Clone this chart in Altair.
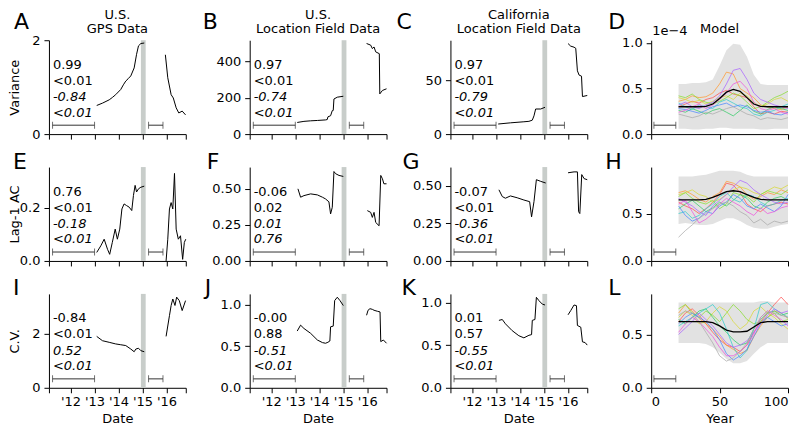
import altair as alt
import pandas as pd

FONT = "DejaVu Sans"
FS = 13
W = 137
H = 94

# ---------------- shared x settings ----------------
DATE_DOMAIN = [2011.1, 2016.8]
DATE_TICKS = [2011.1, 2012, 2013, 2014, 2015, 2016, 2016.8]
GAP = [2014.93, 2015.13]
WIN_X1 = [2011.25, 2015.25]
WIN_X2 = [2013.0, 2015.85]
WIN_FRAC = 0.095

MODEL_X = [20, 25, 30, 35, 40, 45, 50, 55, 60, 65, 70, 75, 80, 85, 90, 95, 100]
MODEL_WIN = [2, 18]

# ---------------- Panel A: Variance, U.S. GPS ----------------
A_x1 = [2013.09, 2013.33, 2013.61, 2013.74, 2013.88, 2014.09, 2014.20, 2014.30, 2014.40, 2014.51, 2014.65, 2014.75, 2014.83, 2014.93, 2015.07]
A_y1 = [0.61, 0.66, 0.73, 0.78, 0.84, 0.95, 1.05, 1.13, 1.18, 1.24, 1.41, 1.70, 1.88, 1.93, 1.94]
A_x2 = [2015.95, 2016.05, 2016.19, 2016.28, 2016.40, 2016.51, 2016.65, 2016.79]
A_y2 = [1.69, 1.20, 0.84, 0.77, 0.56, 0.45, 0.49, 0.41]
A_stats = ["0.99", "<0.01", "-0.84", "<0.01"]

# ---------------- Panel B: Variance, U.S. location field ----------------
B_x1 = [2013.08, 2013.36, 2013.64, 2013.92, 2014.26, 2014.33, 2014.36, 2014.47, 2014.54, 2014.58, 2014.61, 2014.75, 2015.00]
B_y1 = [64, 70, 73, 75, 78, 80, 95, 101, 129, 130, 193, 203, 208]
B_x2 = [2015.97, 2016.14, 2016.21, 2016.28, 2016.35, 2016.50, 2016.52, 2016.63, 2016.80]
B_y2 = [498, 489, 470, 479, 452, 442, 221, 240, 249]
B_stats = ["0.97", "<0.01", "-0.74", "<0.01"]

# ---------------- Panel C: Variance, California ----------------
C_x1 = [2013.09, 2013.60, 2014.16, 2014.37, 2014.51, 2014.58, 2014.65, 2014.86, 2015.04]
C_y1 = [9.4, 10.5, 11.5, 11.9, 13.0, 17.0, 23.4, 23.4, 25.0]
C_x2 = [2016.00, 2016.11, 2016.25, 2016.32, 2016.39, 2016.46, 2016.56, 2016.60, 2016.80]
C_y2 = [84.4, 82.0, 81.0, 80.0, 59.0, 55.0, 54.0, 35.0, 36.0]
C_stats = ["0.97", "<0.01", "-0.79", "<0.01"]

# ---------------- Panel E: Lag-1 AC, U.S. GPS ----------------
E_x1 = [2013.09, 2013.26, 2013.40, 2013.54, 2013.63, 2013.74, 2013.86, 2013.95, 2014.05, 2014.14, 2014.23, 2014.33, 2014.44, 2014.55, 2014.62, 2014.69, 2014.75, 2014.83, 2014.93, 2015.07]
E_y1 = [0.032, 0.057, 0.082, 0.044, 0.025, 0.070, 0.120, 0.082, 0.120, 0.196, 0.215, 0.209, 0.203, 0.190, 0.247, 0.285, 0.260, 0.272, 0.278, 0.282]
E_x2 = [2015.98, 2016.05, 2016.12, 2016.19, 2016.26, 2016.33, 2016.40, 2016.49, 2016.58, 2016.67, 2016.74, 2016.80]
E_y2 = [0.0, 0.082, 0.196, 0.220, 0.196, 0.330, 0.120, 0.082, 0.095, 0.006, 0.070, 0.082]
E_stats = ["0.76", "<0.01", "-0.18", "<0.01"]

# ---------------- Panel F: Lag-1 AC, U.S. location field ----------------
F_x1 = [2013.11, 2013.22, 2013.36, 2013.64, 2013.92, 2014.13, 2014.26, 2014.40, 2014.47, 2014.54, 2014.61, 2014.68, 2014.82, 2015.00]
F_y1 = [0.500, 0.442, 0.453, 0.465, 0.458, 0.442, 0.430, 0.410, 0.326, 0.372, 0.620, 0.605, 0.593, 0.586]
F_x2 = [2016.00, 2016.14, 2016.21, 2016.28, 2016.35, 2016.49, 2016.56, 2016.63, 2016.69, 2016.80]
F_y2 = [0.349, 0.337, 0.302, 0.337, 0.267, 0.244, 0.593, 0.570, 0.535, 0.535]
F_stats = ["-0.06", "0.02", "0.01", "0.76"]

# ---------------- Panel G: Lag-1 AC, California ----------------
G_x1 = [2013.12, 2013.26, 2013.39, 2013.60, 2013.88, 2014.16, 2014.40, 2014.48, 2014.58, 2014.68, 2014.86, 2015.07]
G_y1 = [0.473, 0.428, 0.417, 0.432, 0.420, 0.405, 0.394, 0.293, 0.394, 0.540, 0.529, 0.518]
G_x2 = [2016.00, 2016.25, 2016.39, 2016.44, 2016.49, 2016.57, 2016.67, 2016.80]
G_y2 = [0.586, 0.592, 0.592, 0.327, 0.315, 0.574, 0.547, 0.540]
G_stats = ["-0.07", "<0.01", "-0.36", "<0.01"]

# ---------------- Panel I: C.V., U.S. GPS ----------------
I_x1 = [2013.09, 2013.33, 2013.61, 2013.88, 2014.09, 2014.30, 2014.51, 2014.65, 2014.72, 2014.83, 2014.93, 2015.07]
I_y1 = [1.91, 1.75, 1.69, 1.63, 1.60, 1.57, 1.44, 1.34, 1.44, 1.47, 1.38, 1.34]
I_x2 = [2015.98, 2016.12, 2016.19, 2016.26, 2016.35, 2016.42, 2016.53, 2016.65, 2016.79]
I_y2 = [1.91, 2.68, 3.06, 3.30, 3.06, 3.37, 3.24, 2.87, 3.24]
I_stats = ["-0.84", "<0.01", "0.52", "<0.01"]

# ---------------- Panel J: C.V., U.S. location field ----------------
J_x1 = [2013.08, 2013.22, 2013.36, 2013.64, 2013.92, 2014.13, 2014.26, 2014.36, 2014.44, 2014.47, 2014.58, 2014.64, 2014.75, 2014.86, 2015.00]
J_y1 = [0.683, 0.754, 0.714, 0.655, 0.575, 0.544, 0.536, 0.548, 0.563, 0.734, 0.742, 1.05, 1.09, 1.05, 0.99]
J_x2 = [2015.97, 2016.03, 2016.11, 2016.21, 2016.28, 2016.42, 2016.53, 2016.56, 2016.67, 2016.80]
J_y2 = [0.873, 0.933, 0.952, 0.944, 0.933, 0.921, 0.913, 0.556, 0.575, 0.536]
J_stats = ["-0.00", "0.88", "-0.51", "<0.01"]

# ---------------- Panel K: C.V., California ----------------
K_x1 = [2013.12, 2013.26, 2013.39, 2013.67, 2013.95, 2014.16, 2014.37, 2014.48, 2014.51, 2014.62, 2014.68, 2014.79, 2014.93, 2015.04]
K_y1 = [0.79, 0.80, 0.75, 0.67, 0.61, 0.585, 0.615, 0.623, 0.79, 0.80, 1.06, 1.02, 0.98, 0.97]
K_x2 = [2016.00, 2016.11, 2016.25, 2016.35, 2016.39, 2016.53, 2016.60, 2016.71, 2016.80]
K_y2 = [0.855, 0.904, 0.97, 0.962, 0.73, 0.71, 0.538, 0.53, 0.50]
K_stats = ["0.01", "0.57", "-0.55", "<0.01"]

# ---------------- Model panels ----------------
SERIES = ["s1", "s2", "s3", "s4", "s5", "s6", "s7", "s8", "s9", "s10"]
SERIES_COLORS = ["#ff5050", "#ff9933", "#d8d838", "#88dd33", "#33cc66",
                 "#33cccc", "#4d88ff", "#aa66ff", "#ee55dd", "#aaaaaa"]

D_hi = [0.55, 0.55, 0.56, 0.56, 0.57, 0.60, 0.75, 0.92, 0.99, 0.98, 0.85, 0.65, 0.55, 0.54, 0.54, 0.54, 0.54]
D_lo = [0.06, 0.06, 0.05, 0.05, 0.06, 0.06, 0.07, 0.07, 0.06, 0.06, 0.06, 0.06, 0.05, 0.05, 0.06, 0.06, 0.06]
D_mean = [0.30, 0.30, 0.30, 0.30, 0.305, 0.33, 0.39, 0.46, 0.49, 0.47, 0.40, 0.33, 0.305, 0.30, 0.30, 0.30, 0.30]
D_lines = [
    [0.30, 0.33, 0.36, 0.34, 0.38, 0.40, 0.45, 0.48, 0.44, 0.42, 0.40, 0.30, 0.22, 0.24, 0.22, 0.25, 0.24],
    [0.36, 0.38, 0.42, 0.40, 0.41, 0.45, 0.55, 0.68, 0.66, 0.50, 0.45, 0.40, 0.32, 0.30, 0.28, 0.27, 0.30],
    [0.40, 0.38, 0.35, 0.37, 0.33, 0.36, 0.40, 0.42, 0.38, 0.45, 0.42, 0.35, 0.30, 0.33, 0.38, 0.40, 0.36],
    [0.42, 0.40, 0.44, 0.38, 0.35, 0.33, 0.36, 0.40, 0.45, 0.42, 0.35, 0.28, 0.30, 0.35, 0.40, 0.43, 0.47],
    [0.26, 0.24, 0.28, 0.25, 0.22, 0.26, 0.28, 0.24, 0.20, 0.26, 0.32, 0.25, 0.22, 0.27, 0.30, 0.28, 0.26],
    [0.34, 0.30, 0.27, 0.32, 0.30, 0.28, 0.35, 0.38, 0.34, 0.30, 0.28, 0.22, 0.20, 0.24, 0.26, 0.30, 0.33],
    [0.28, 0.27, 0.25, 0.23, 0.26, 0.30, 0.32, 0.34, 0.30, 0.32, 0.30, 0.26, 0.24, 0.25, 0.22, 0.21, 0.24],
    [0.32, 0.35, 0.30, 0.28, 0.32, 0.35, 0.42, 0.55, 0.70, 0.72, 0.60, 0.45, 0.38, 0.35, 0.32, 0.30, 0.28],
    [0.24, 0.26, 0.30, 0.33, 0.28, 0.32, 0.38, 0.45, 0.55, 0.58, 0.50, 0.35, 0.28, 0.26, 0.28, 0.24, 0.22],
    [0.22, 0.20, 0.18, 0.20, 0.24, 0.22, 0.25, 0.28, 0.30, 0.26, 0.22, 0.20, 0.16, 0.18, 0.17, 0.16, 0.18],
]

H_hi = [0.89, 0.89, 0.89, 0.90, 0.91, 0.93, 0.95, 0.95, 0.95, 0.94, 0.91, 0.89, 0.89, 0.89, 0.89, 0.89, 0.89]
H_lo = [0.39, 0.40, 0.39, 0.38, 0.38, 0.39, 0.42, 0.45, 0.45, 0.42, 0.38, 0.35, 0.34, 0.34, 0.36, 0.38, 0.39]
H_mean = [0.645, 0.645, 0.645, 0.645, 0.65, 0.67, 0.70, 0.73, 0.74, 0.73, 0.70, 0.67, 0.65, 0.645, 0.645, 0.645, 0.645]
H_lines = [
    [0.62, 0.58, 0.55, 0.50, 0.55, 0.62, 0.70, 0.82, 0.80, 0.72, 0.60, 0.55, 0.52, 0.58, 0.60, 0.62, 0.60],
    [0.72, 0.74, 0.70, 0.65, 0.62, 0.68, 0.72, 0.84, 0.82, 0.78, 0.70, 0.65, 0.68, 0.72, 0.70, 0.75, 0.72],
    [0.70, 0.72, 0.75, 0.70, 0.68, 0.62, 0.65, 0.70, 0.75, 0.78, 0.76, 0.72, 0.70, 0.74, 0.78, 0.76, 0.80],
    [0.68, 0.72, 0.66, 0.62, 0.60, 0.64, 0.55, 0.60, 0.72, 0.70, 0.68, 0.62, 0.70, 0.74, 0.72, 0.70, 0.75],
    [0.55, 0.60, 0.64, 0.58, 0.52, 0.56, 0.62, 0.58, 0.64, 0.70, 0.66, 0.58, 0.55, 0.62, 0.66, 0.68, 0.64],
    [0.50, 0.52, 0.45, 0.48, 0.55, 0.60, 0.68, 0.72, 0.65, 0.62, 0.70, 0.68, 0.62, 0.58, 0.60, 0.64, 0.66],
    [0.58, 0.48, 0.42, 0.45, 0.52, 0.50, 0.58, 0.62, 0.70, 0.66, 0.58, 0.55, 0.60, 0.56, 0.52, 0.58, 0.70],
    [0.66, 0.62, 0.58, 0.52, 0.48, 0.58, 0.64, 0.70, 0.78, 0.85, 0.82, 0.75, 0.70, 0.66, 0.62, 0.60, 0.62],
    [0.60, 0.64, 0.52, 0.40, 0.44, 0.50, 0.60, 0.66, 0.62, 0.58, 0.52, 0.48, 0.56, 0.50, 0.52, 0.56, 0.58],
    [0.25, 0.32, 0.38, 0.45, 0.50, 0.55, 0.60, 0.62, 0.58, 0.52, 0.48, 0.40, 0.44, 0.38, 0.42, 0.40, 0.42],
]

L_hi = [0.80, 0.80, 0.80, 0.80, 0.80, 0.80, 0.80, 0.80, 0.80, 0.80, 0.80, 0.80, 0.81, 0.81, 0.80, 0.80, 0.80]
L_lo = [0.42, 0.42, 0.42, 0.42, 0.41, 0.38, 0.33, 0.27, 0.23, 0.23, 0.25, 0.32, 0.38, 0.42, 0.42, 0.42, 0.42]
L_mean = [0.62, 0.62, 0.62, 0.62, 0.62, 0.61, 0.58, 0.54, 0.525, 0.525, 0.53, 0.57, 0.61, 0.62, 0.62, 0.62, 0.62]
L_lines = [
    [0.62, 0.70, 0.74, 0.68, 0.60, 0.52, 0.45, 0.40, 0.38, 0.34, 0.40, 0.52, 0.62, 0.70, 0.78, 0.85, 0.78],
    [0.70, 0.78, 0.72, 0.65, 0.60, 0.55, 0.48, 0.40, 0.36, 0.32, 0.35, 0.48, 0.58, 0.66, 0.72, 0.70, 0.65],
    [0.66, 0.72, 0.68, 0.60, 0.62, 0.70, 0.76, 0.72, 0.62, 0.55, 0.60, 0.72, 0.76, 0.70, 0.66, 0.60, 0.55],
    [0.74, 0.78, 0.70, 0.66, 0.72, 0.68, 0.62, 0.70, 0.78, 0.72, 0.64, 0.60, 0.62, 0.66, 0.70, 0.62, 0.64],
    [0.64, 0.60, 0.66, 0.72, 0.74, 0.66, 0.58, 0.52, 0.45, 0.40, 0.42, 0.55, 0.64, 0.70, 0.72, 0.68, 0.70],
    [0.58, 0.62, 0.66, 0.70, 0.74, 0.78, 0.70, 0.55, 0.38, 0.28, 0.35, 0.55, 0.78, 0.80, 0.74, 0.70, 0.66],
    [0.60, 0.66, 0.70, 0.66, 0.62, 0.55, 0.45, 0.32, 0.26, 0.30, 0.36, 0.48, 0.60, 0.66, 0.62, 0.58, 0.60],
    [0.50, 0.56, 0.62, 0.70, 0.64, 0.58, 0.50, 0.42, 0.38, 0.40, 0.44, 0.52, 0.60, 0.68, 0.74, 0.70, 0.72],
    [0.52, 0.60, 0.66, 0.62, 0.55, 0.48, 0.38, 0.30, 0.30, 0.34, 0.40, 0.50, 0.66, 0.72, 0.68, 0.64, 0.58],
    [0.68, 0.72, 0.70, 0.62, 0.52, 0.42, 0.30, 0.25, 0.28, 0.34, 0.42, 0.55, 0.66, 0.72, 0.70, 0.68, 0.66],
]

STAT_Y = [24.5, 40.5, 57, 72.5]
TITLE_Y = [-25.5, -11.5]
ROW_LETTER_Y = [-11, 2, 1]
ONE = pd.DataFrame({"k": [0]})


def y_enc(field, ymax, ticks, fmt, ytitle):
    kw = dict(values=ticks, format=fmt, labelOverlap=False)
    if ytitle:
        kw.update(title=ytitle, minExtent=24, maxExtent=24, titlePadding=3)
    else:
        kw.update(title=None)
    return alt.Y(f"{field}:Q", scale=alt.Scale(domain=[0, ymax], nice=False, zero=False),
                 axis=alt.Axis(**kw))


def x_date(field, row):
    last = row == 2
    kw = dict(values=DATE_TICKS, labels=last, labelOverlap=False, labelFlush=False,
              labelExpr="datum.value % 1 == 0 ? \"'\" + (datum.value - 2000) : ''")
    if last:
        kw.update(title="Date")
    else:
        kw.update(title=None)
    return alt.X(f"{field}:Q", scale=alt.Scale(domain=DATE_DOMAIN, nice=False, zero=False),
                 axis=alt.Axis(**kw))


def x_model(field, row):
    last = row == 2
    kw = dict(values=[0, 50, 100], labels=last, labelOverlap=False, labelFlush=True)
    if last:
        kw.update(title="Year")
    else:
        kw.update(title=None)
    return alt.X(f"{field}:Q", scale=alt.Scale(domain=[0, 100], nice=False, zero=False),
                 axis=alt.Axis(**kw))


def text_layer(txt, px, py, size=FS, align="left", baseline="middle", style="normal"):
    return alt.Chart(ONE).mark_text(align=align, baseline=baseline, font=FONT,
                                    fontSize=size, color="black", fontStyle=style).encode(
        x=alt.value(px), y=alt.value(py), text=alt.value(txt))


def decor_layers(letter, lx, row, title):
    out = [text_layer(letter, lx, ROW_LETTER_Y[row], size=22, baseline="alphabetic")]
    if title:
        ys = TITLE_Y[-len(title):]
        for t, ty in zip(title, ys):
            out.append(text_layer(t, W / 2, ty, align="center"))
    return out


def interval_layers(xf, x1s, x2s, yv, Y):
    win_df = pd.DataFrame({"x": x1s, "x2": x2s, "y": [yv] * len(x1s)})
    cap_df = pd.DataFrame({"x": x1s + x2s, "y": [yv] * (2 * len(x1s))})
    rule = alt.Chart(win_df).mark_rule(color="#333333", strokeWidth=1).encode(
        x=xf("x"), x2="x2:Q", y=Y)
    caps = alt.Chart(cap_df).mark_tick(orient="vertical", size=7, thickness=1,
                                       color="#333333").encode(x=xf("x"), y=Y)
    return [rule, caps]


def date_panel(letter, lx, row, x1, y1, x2, y2, ymax, ticks, fmt, stats,
               ytitle=None, title=None):
    xf = lambda f: x_date(f, row)
    Y = y_enc("y", ymax, ticks, fmt, ytitle)
    line_df = pd.DataFrame({"x": x1 + x2, "y": y1 + y2,
                            "seg": ["a"] * len(x1) + ["b"] * len(x2)})
    gap_df = pd.DataFrame({"x": [GAP[0]], "x2": [GAP[1]]})
    band = alt.Chart(gap_df).mark_rect(color="#c8cdca").encode(
        x=xf("x"), x2="x2:Q", y=alt.value(0), y2=alt.value(H))
    line = alt.Chart(line_df).mark_line(color="black", strokeWidth=1).encode(
        x=xf("x"), y=Y, detail="seg:N", order="x:Q")
    layers = [band, line] + interval_layers(xf, WIN_X1, WIN_X2, ymax * WIN_FRAC, Y)
    for i, (s, py) in enumerate(zip(stats, STAT_Y)):
        layers.append(text_layer(s, 4, py, style="italic" if i >= 2 else "normal"))
    layers += decor_layers(letter, lx, row, title)
    return alt.layer(*layers).properties(width=W, height=H)


def model_panel(letter, lx, row, hi, lo, mean, lines, ymax, ticks, title=None, sci=False):
    xf = lambda f: x_model(f, row)
    Y = y_enc("y", ymax, ticks, ".1f", None)
    band_df = pd.DataFrame({"x": MODEL_X, "y": lo, "y2": hi})
    recs = []
    for s, vals in zip(SERIES, lines):
        for xv, yv in zip(MODEL_X, vals):
            recs.append({"x": xv, "y": yv, "s": s})
    lines_df = pd.DataFrame(recs)
    mean_df = pd.DataFrame({"x": MODEL_X, "y": mean})
    band = alt.Chart(band_df).mark_area(color="#e2e2e2").encode(x=xf("x"), y=Y, y2="y2:Q")
    ln = alt.Chart(lines_df).mark_line(strokeWidth=1, opacity=0.75).encode(
        x=xf("x"), y=Y,
        color=alt.Color("s:N", scale=alt.Scale(domain=SERIES, range=SERIES_COLORS), legend=None))
    mn = alt.Chart(mean_df).mark_line(color="black", strokeWidth=1.3).encode(x=xf("x"), y=Y)
    layers = [band, ln, mn] + interval_layers(xf, [MODEL_WIN[0]], [MODEL_WIN[1]], ymax * WIN_FRAC, Y)
    if sci:
        layers.append(text_layer("1e\u22124", 1, -5, baseline="alphabetic"))
    layers += decor_layers(letter, lx, row, title)
    return alt.layer(*layers).properties(width=W, height=H)


pA = date_panel("A", -35, 0, A_x1, A_y1, A_x2, A_y2, 2.0, [0, 1, 2], "d", A_stats,
                ytitle="Variance", title=["U.S.", "GPS Data"])
pB = date_panel("B", -47, 0, B_x1, B_y1, B_x2, B_y2, 516, [0, 200, 400], "d", B_stats,
                title=["U.S.", "Location Field Data"])
pC = date_panel("C", -54, 0, C_x1, C_y1, C_x2, C_y2, 87.5, [0, 50], "d", C_stats,
                title=["California", "Location Field Data"])
pD = model_panel("D", -43, 0, D_hi, D_lo, D_mean, D_lines, 1.03, [0, 0.5, 1.0],
                 title=["Model"], sci=True)

pE = date_panel("E", -36, 1, E_x1, E_y1, E_x2, E_y2, 0.354, [0, 0.2], ".1f", E_stats,
                ytitle="Lag-1 AC")
pF = date_panel("F", -43, 1, F_x1, F_y1, F_x2, F_y2, 0.651, [0, 0.25, 0.5], ".2f", F_stats)
pG = date_panel("G", -48, 1, G_x1, G_y1, G_x2, G_y2, 0.624, [0, 0.25, 0.5], ".2f", G_stats)
pH = model_panel("H", -46, 1, H_hi, H_lo, H_mean, H_lines, 0.99, [0, 0.5])

pI = date_panel("I", -36, 2, I_x1, I_y1, I_x2, I_y2, 3.49, [0, 2], "d", I_stats,
                ytitle="C.V.")
pJ = date_panel("J", -45, 2, J_x1, J_y1, J_x2, J_y2, 1.13, [0, 0.5, 1.0], ".1f", J_stats)
pK = date_panel("K", -49, 2, K_x1, K_y1, K_x2, K_y2, 1.10, [0, 0.5, 1.0], ".1f", K_stats)
pL = model_panel("L", -43, 2, L_hi, L_lo, L_mean, L_lines, 0.88, [0, 0.5])

chart = alt.concat(
    pA, pB, pC, pD, pE, pF, pG, pH, pI, pJ, pK, pL,
    columns=4, spacing={"row": 33, "column": 64}, bounds="flush"
).properties(
    padding=0
).configure_view(
    stroke="transparent"
).configure_axis(
    domainColor="black", tickColor="black", labelColor="black", titleColor="black",
    labelFont=FONT, titleFont=FONT, labelFontSize=FS, titleFontSize=FS,
    titleFontWeight="normal", tickSize=5, grid=False, domainWidth=1, tickWidth=1
).configure_axisY(
    labelPadding=4
).configure_axisX(
    labelPadding=3, titlePadding=4
)

chart.save("out.html", embed_options={"renderer": "svg", "actions": False})
